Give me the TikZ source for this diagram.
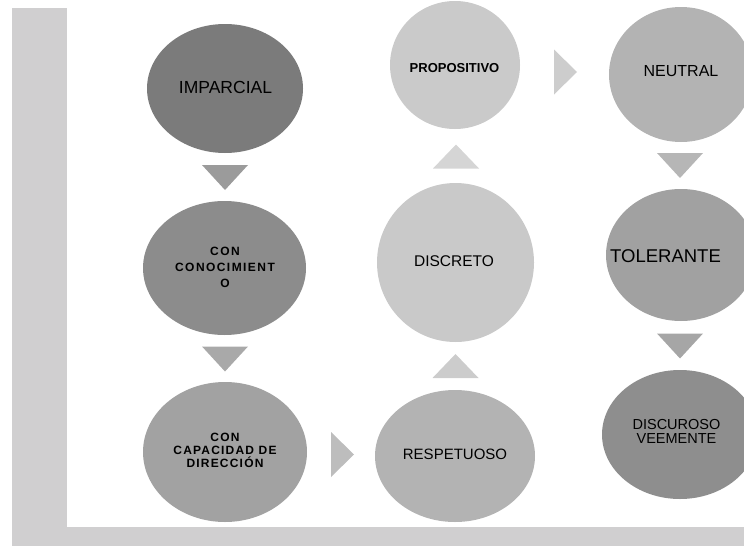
\documentclass[tikz,border=0pt]{standalone}
\usepackage{fontspec}
\setmainfont{Liberation Sans}
\newfontfamily\spfont[LetterSpace=12]{Liberation Sans}
\newfontfamily\spfontb[LetterSpace=10]{Liberation Sans}
\usetikzlibrary{shapes.geometric}
\definecolor{barc}{HTML}{D0CFD0}
\definecolor{eA}{HTML}{7B7B7B}
\definecolor{eB}{HTML}{8C8C8C}
\definecolor{eC}{HTML}{A2A2A2}
\definecolor{eD}{HTML}{B3B3B3}
\definecolor{eE}{HTML}{C9C9C9}
\definecolor{eF}{HTML}{CACACA}
\definecolor{eG}{HTML}{B3B3B3}
\definecolor{eH}{HTML}{A1A1A1}
\definecolor{eI}{HTML}{8E8E8E}
\definecolor{tA}{HTML}{9B9B9B}
\definecolor{tB}{HTML}{A9A9A9}
\definecolor{tC}{HTML}{BDBDBD}
\definecolor{tD}{HTML}{CCCCCC}
\definecolor{tE}{HTML}{D5D5D5}
\definecolor{tF}{HTML}{CDCDCD}
\definecolor{tG}{HTML}{B6B6B6}
\definecolor{tH}{HTML}{A6A6A6}
\begin{document}
\begin{tikzpicture}[x=1pt,y=-1pt,
  bubble/.style={ellipse, inner sep=0pt, outer sep=0pt, draw=none},
  lbl/.style={inner sep=0pt, outer sep=0pt, align=center, text=black},
  tdown/.pic={\fill[pic actions] (-23,-12.5) -- (23,-12.5) -- (0,12.5) -- cycle;},
  tup/.pic={\fill[pic actions] (-23,12) -- (23,12) -- (0,-12) -- cycle;},
  tright/.pic={\fill[pic actions] (-11.5,-22.5) -- (-11.5,22.5) -- (11.5,0) -- cycle;}
]
\useasboundingbox (0,0) rectangle (744,546);
\clip (0,0) rectangle (744,546);
% background frame
\fill[barc] (12,8) rectangle (67,546);
\fill[barc] (12,527) rectangle (744,546);
% bubbles
\node[bubble, fill=eA, minimum width=156pt, minimum height=129pt] (imp) at (225,88.5) {};
\node[bubble, fill=eB, minimum width=163pt, minimum height=134pt] (con) at (224.5,268) {};
\node[bubble, fill=eC, minimum width=164pt, minimum height=140pt] (cap) at (225,452) {};
\node[bubble, fill=eD, minimum width=160pt, minimum height=132pt] (res) at (455,456) {};
\node[bubble, fill=eE, minimum width=157pt, minimum height=159pt] (dis) at (455.5,262.5) {};
\node[bubble, fill=eF, minimum width=130pt, minimum height=128pt] (pro) at (455,65) {};
\node[bubble, fill=eG, minimum width=144pt, minimum height=135pt] (neu) at (681,74.5) {};
\node[bubble, fill=eH, minimum width=150pt, minimum height=132pt] (tol) at (681,255) {};
\node[bubble, fill=eI, minimum width=156pt, minimum height=129pt] (vee) at (680,434.5) {};
% labels
\node[lbl, font=\fontsize{17.5}{20}\selectfont] (impt) at (225.5,87) {IMPARCIAL};
\node[lbl, font=\spfont\bfseries\fontsize{12}{16}\selectfont] (cont) at (225,267) {CON\\CONOCIMIENT\\O};
\node[lbl, font=\spfontb\bfseries\fontsize{12}{13}\selectfont] (capt) at (225,450) {CON\\CAPACIDAD DE\\DIRECCIÓN};
\node[lbl, font=\fontsize{15}{18}\selectfont] (rest) at (455,454.5) {RESPETUOSO};
\node[lbl, font=\fontsize{15.5}{18}\selectfont] (dist) at (454,261) {DISCRETO};
\node[lbl, font=\bfseries\fontsize{13}{15}\selectfont] (prot) at (454.5,68) {PROPOSITIVO};
\node[lbl, font=\fontsize{16}{18}\selectfont] (neut) at (681,71) {NEUTRAL};
\node[lbl, font=\fontsize{18.5}{20}\selectfont] (tolt) at (665.5,256.5) {TOLERANTE};
\node[lbl, font=\fontsize{14.5}{14}\selectfont] (veet) at (676.5,431) {DISCUROSO\\VEEMENTE};
% arrow triangles
\pic[fill=tA] at (225,177.5) {tdown};
\pic[fill=tB] at (225,359) {tdown};
\pic[fill=tC] at (342.5,454.5) {tright};
\pic[fill=tD] at (455.5,366) {tup};
\pic[fill=tE] at (456,156.5) {tup};
\pic[fill=tF] at (565.5,72) {tright};
\pic[fill=tG] at (680,165.5) {tdown};
\pic[fill=tH] at (680,346) {tdown};
\end{tikzpicture}
\end{document}
